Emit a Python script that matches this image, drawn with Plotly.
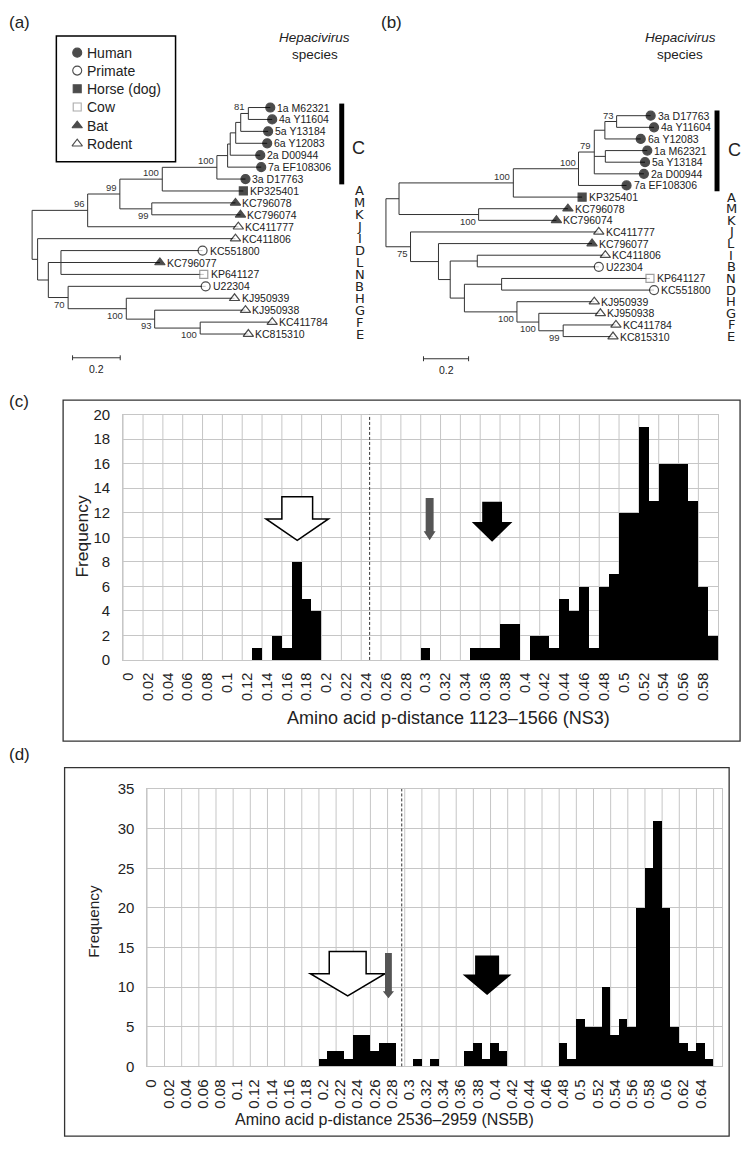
import plotly.graph_objects as go

W, H = 750, 1151
FONT = "Liberation Sans, Arial, Helvetica, sans-serif"

# ======================= DATA =======================
# ---- Tree (a): leaves top->bottom, tip depth (subst./site), host ----
A_LEAVES = ["1a M62321", "4a Y11604", "5a Y13184", "6a Y12083", "2a D00944",
            "7a EF108306", "3a D17763", "KP325401", "KC796078", "KC796074",
            "KC411777", "KC411806", "KC551800", "KC796077", "KP641127",
            "U22304", "KJ950939", "KJ950938", "KC411784", "KC815310"]
A_TIPS = [0.999, 1.007, 0.990, 0.986, 0.957, 0.961, 0.895, 0.886, 0.853, 0.874,
          0.865, 0.853, 0.715, 0.536, 0.720, 0.728, 0.849, 0.895, 1.007, 0.907]
A_HOSTS = ["Human", "Human", "Human", "Human", "Human", "Human", "Human",
           "Horse (dog)", "Bat", "Bat", "Rodent", "Rodent", "Primate", "Bat",
           "Cow", "Primate", "Rodent", "Rodent", "Rodent", "Rodent"]
A_SPECIES = ["A", "M", "K", "J", "I", "D", "L", "N", "B", "H", "G", "F", "E"]
# internal nodes (bottom-up): name, depth, children, bootstrap, label side
A_NODES = [
    ("n81", 0.907, ["1a M62321", "4a Y11604"], "81", "above"),
    ("nc4", 0.875, ["n81", "5a Y13184"], "", ""),
    ("nc3", 0.854, ["nc4", "6a Y12083"], "", ""),
    ("nc2", 0.831, ["nc3", "2a D00944"], "", ""),
    ("nc1", 0.820, ["nc2", "7a EF108306"], "", ""),
    ("n100i", 0.775, ["nc1", "3a D17763"], "100", "above"),
    ("n100o", 0.546, ["n100i", "KP325401"], "100", "above"),
    ("nbat", 0.502, ["KC796078", "KC796074"], "99", "below"),
    ("n99", 0.368, ["n100o", "nbat"], "99", "above"),
    ("n96", 0.233, ["n99", "KC411777"], "96", "above"),
    ("n56", 0.121, ["KC551800", "KC796077", "KP641127"], "", ""),
    ("n100c", 0.705, ["KC411784", "KC815310"], "100", "below"),
    ("n93", 0.514, ["KJ950938", "n100c"], "93", "below"),
    ("n100b", 0.395, ["KJ950939", "n93"], "100", "below"),
    ("n70", 0.151, ["U22304", "n100b"], "70", "below"),
    ("n43", 0.068, ["n56", "n70"], "", ""),
    ("n32", 0.023, ["KC411806", "n43"], "", ""),
    ("root", 0.0, ["n96", "n32"], "", ""),
]

# ---- Tree (b) ----
B_LEAVES = ["3a D17763", "4a Y11604", "6a Y12083", "1a M62321", "5a Y13184",
            "2a D00944", "7a EF108306", "KP325401", "KC796078", "KC796074",
            "KC411777", "KC796077", "KC411806", "U22304", "KP641127",
            "KC551800", "KJ950939", "KJ950938", "KC411784", "KC815310"]
B_TIPS = [1.174, 1.189, 1.130, 1.159, 1.149, 1.144, 1.067, 0.870, 0.807, 0.756,
          0.944, 0.914, 0.973, 0.944, 1.171, 1.189, 0.924, 0.951, 1.020, 1.007]
B_HOSTS = ["Human", "Human", "Human", "Human", "Human", "Human", "Human",
           "Horse (dog)", "Bat", "Bat", "Rodent", "Bat", "Rodent", "Primate",
           "Cow", "Primate", "Rodent", "Rodent", "Rodent", "Rodent"]
B_SPECIES = ["A", "M", "K", "J", "L", "I", "B", "N", "D", "H", "G", "F", "E"]
B_NODES = [
    ("n73", 1.023, ["3a D17763", "4a Y11604"], "73", "above"),
    ("n604", 0.971, ["n73", "6a Y12083"], "", ""),
    ("n15", 0.973, ["1a M62321", "5a Y13184"], "", ""),
    ("n79", 0.924, ["n604", "n15", "2a D00944"], "79", "above"),
    ("n100i", 0.854, ["n79", "7a EF108306"], "100", "above"),
    ("n100o", 0.565, ["n100i", "KP325401"], "100", "above"),
    ("nbat", 0.411, ["KC796078", "KC796074"], "100", "below"),
    ("nU", 0.058, ["n100o", "nbat"], "", ""),
    ("n562", 0.786, ["KC411784", "KC815310"], "99", "below"),
    ("n537", 0.678, ["KJ950938", "n562"], "100", "below"),
    ("n515", 0.581, ["KJ950939", "n537"], "100", "below"),
    ("n500", 0.513, ["KP641127", "KC551800"], "", ""),
    ("n462", 0.348, ["n500", "n515"], "", ""),
    ("n475", 0.405, ["KC411806", "U22304"], "", ""),
    ("n448", 0.285, ["n475", "n462"], "", ""),
    ("n436", 0.233, ["KC796077", "n448"], "", ""),
    ("n75", 0.109, ["KC411777", "n436"], "75", "below"),
    ("root", 0.0, ["nU", "n75"], "", ""),
]

LEGEND_HOSTS = ["Human", "Primate", "Horse (dog)", "Cow", "Bat", "Rodent"]

# ---- Histogram (c): NS3 ----
C_BINS = [0.00, 0.01, 0.02, 0.03, 0.04, 0.05, 0.06, 0.07, 0.08, 0.09,
          0.10, 0.11, 0.12, 0.13, 0.14, 0.15, 0.16, 0.17, 0.18, 0.19,
          0.20, 0.21, 0.22, 0.23, 0.24, 0.25, 0.26, 0.27, 0.28, 0.29,
          0.30, 0.31, 0.32, 0.33, 0.34, 0.35, 0.36, 0.37, 0.38, 0.39,
          0.40, 0.41, 0.42, 0.43, 0.44, 0.45, 0.46, 0.47, 0.48, 0.49,
          0.50, 0.51, 0.52, 0.53, 0.54, 0.55, 0.56, 0.57, 0.58, 0.59]
C_COUNTS = [0, 0, 0, 0, 0, 0, 0, 0, 0, 0,
            0, 0, 0, 1, 0, 2, 1, 8, 5, 4,
            0, 0, 0, 0, 0, 0, 0, 0, 0, 0,
            1, 0, 0, 0, 0, 1, 1, 1, 3, 3,
            0, 2, 2, 1, 5, 4, 6, 1, 6, 7,
            12, 12, 19, 13, 16, 16, 16, 13, 6, 2]
C_TICKS = ["0", "0.02", "0.04", "0.06", "0.08", "0.1", "0.12", "0.14", "0.16",
           "0.18", "0.2", "0.22", "0.24", "0.26", "0.28", "0.3", "0.32",
           "0.34", "0.36", "0.38", "0.4", "0.42", "0.44", "0.46", "0.48",
           "0.5", "0.52", "0.54", "0.56", "0.58"]
C_CUTOFF = 0.2485

# ---- Histogram (d): NS5B ----
D_BINS = [0.00, 0.01, 0.02, 0.03, 0.04, 0.05, 0.06, 0.07, 0.08, 0.09,
          0.10, 0.11, 0.12, 0.13, 0.14, 0.15, 0.16, 0.17, 0.18, 0.19,
          0.20, 0.21, 0.22, 0.23, 0.24, 0.25, 0.26, 0.27, 0.28, 0.29,
          0.30, 0.31, 0.32, 0.33, 0.34, 0.35, 0.36, 0.37, 0.38, 0.39,
          0.40, 0.41, 0.42, 0.43, 0.44, 0.45, 0.46, 0.47, 0.48, 0.49,
          0.50, 0.51, 0.52, 0.53, 0.54, 0.55, 0.56, 0.57, 0.58, 0.59,
          0.60, 0.61, 0.62, 0.63, 0.64, 0.65, 0.66]
D_COUNTS = [0, 0, 0, 0, 0, 0, 0, 0, 0, 0,
            0, 0, 0, 0, 0, 0, 0, 0, 0, 0,
            1, 2, 2, 1, 4, 4, 2, 3, 3, 0,
            0, 1, 0, 1, 0, 0, 0, 2, 3, 1,
            3, 2, 0, 0, 0, 0, 0, 0, 3, 1,
            6, 5, 5, 10, 4, 6, 5, 20, 25, 31,
            20, 5, 3, 2, 3, 1, 0]
D_TICKS = ["0", "0.02", "0.04", "0.06", "0.08", "0.1", "0.12", "0.14", "0.16",
           "0.18", "0.2", "0.22", "0.24", "0.26", "0.28", "0.3", "0.32",
           "0.34", "0.36", "0.38", "0.4", "0.42", "0.44", "0.46", "0.48",
           "0.5", "0.52", "0.54", "0.56", "0.58", "0.6", "0.62", "0.64"]
D_CUTOFF = 0.2965

# arrows: style, centre x, shaft half-width, head half-width, top, head base, tip
C_ARROWS = [("open", 0.1755, 0.0155, 0.0315, 13.3, 11.5, 9.75),
            ("grey", 0.309, 0.004, 0.006, 13.2, 10.5, 9.75),
            ("solid", 0.372, 0.010, 0.0205, 12.9, 11.25, 9.64)]
D_ARROWS = [("open", 0.2335, 0.0215, 0.0435, 14.5, 11.7, 8.9),
            ("grey", 0.281, 0.004, 0.0065, 14.3, 9.5, 8.6),
            ("solid", 0.396, 0.014, 0.0285, 14.0, 11.6, 9.0)]

# ======================= HELPERS =======================
def pxx(x):
    return x / W


def pxy(y):
    return 1 - y / H


HOST_STYLE = {
    "Human": dict(symbol="circle", color="black", line="black", size=9),
    "Primate": dict(symbol="circle", color="white", line="black", size=9),
    "Horse (dog)": dict(symbol="square", color="black", line="black", size=8),
    "Cow": dict(symbol="square", color="white", line="#777777", size=8),
    "Bat": dict(symbol="triangle-up", color="black", line="black", size=9),
    "Rodent": dict(symbol="triangle-up", color="white", line="black", size=9),
}

fig = go.Figure()
annotations = []
shapes = []


def ann(text, x, y, size, xref="paper", yref="paper", xanchor="center",
        yanchor="middle", angle=0, color="#222222", family=FONT, **kw):
    annotations.append(dict(text=text, x=x, y=y, xref=xref, yref=yref,
                            xanchor=xanchor, yanchor=yanchor, showarrow=False,
                            textangle=angle,
                            font=dict(size=size, color=color, family=family),
                            **kw))


def draw_tree(leaves, tips, hosts, nodes, xa, ya):
    pos = {}
    for i, (n, d) in enumerate(zip(leaves, tips)):
        pos[n] = (d, i)
    xs, ys = [], []
    for name, depth, children, bs, side in nodes:
        cy = [pos[c][1] for c in children]
        y0, y1 = min(cy), max(cy)
        mid = (y0 + y1) / 2
        pos[name] = (depth, mid)
        xs += [depth, depth, None]
        ys += [y0, y1, None]
        for c in children:
            cd, cyy = pos[c]
            xs += [depth, cd, None]
            ys += [cyy, cyy, None]
        if bs:
            if side == "above":
                ann(bs, depth, mid, 9.5, xref=xa, yref=ya, xanchor="right",
                    yanchor="bottom", xshift=-1, yshift=-1, color="#333333")
            else:
                ann(bs, depth, mid, 9.5, xref=xa, yref=ya, xanchor="right",
                    yanchor="top", xshift=-1, yshift=1, color="#333333")
    fig.add_trace(go.Scatter(x=xs, y=ys, mode="lines", xaxis=xa, yaxis=ya,
                             line=dict(color="#333333", width=1),
                             hoverinfo="skip", showlegend=False,
                             cliponaxis=False))
    fig.add_trace(go.Scatter(
        x=tips, y=list(range(len(leaves))), mode="markers", xaxis=xa,
        yaxis=ya, hoverinfo="skip", showlegend=False, cliponaxis=False,
        marker=dict(symbol=[HOST_STYLE[h]["symbol"] for h in hosts],
                    color=[HOST_STYLE[h]["color"] for h in hosts],
                    size=[HOST_STYLE[h]["size"] for h in hosts],
                    line=dict(color=[HOST_STYLE[h]["line"] for h in hosts],
                              width=1.2))))
    for i, (n, d) in enumerate(zip(leaves, tips)):
        ann(n, d, i, 10.5, xref=xa, yref=ya, xanchor="left", xshift=5)


# ======================= TREES =======================
A_ROOT_PX, A_SCALE = 27.3, 240.0      # px of root, px per unit
A_Y0, A_DY = 100.0, 12.1              # px of first leaf, px per leaf
B_ROOT_PX, B_SCALE = 383.5, 227.0
B_Y0, B_DY = 108.3, 11.8

draw_tree(A_LEAVES, A_TIPS, A_HOSTS, A_NODES, "x", "y")
draw_tree(B_LEAVES, B_TIPS, B_HOSTS, B_NODES, "x2", "y2")

# species letters
for k, s in enumerate(A_SPECIES):
    ann(s, pxx(357), 7 + k, 13, yref="y", family="DejaVu Sans, sans-serif")
for k, s in enumerate(B_SPECIES):
    ann(s, pxx(731), 7 + k, 13, yref="y2", family="DejaVu Sans, sans-serif")
ann("C", pxx(356), pxy(141), 18)
ann("C", pxx(734), pxy(143), 18)
shapes.append(dict(type="rect", xref="paper", yref="paper", x0=pxx(336.5),
                   x1=pxx(341.5), y0=pxy(96), y1=pxy(178),
                   fillcolor="black", line=dict(width=0)))
shapes.append(dict(type="rect", xref="paper", yref="paper", x0=pxx(714.3),
                   x1=pxx(719.3), y0=pxy(103), y1=pxy(185),
                   fillcolor="black", line=dict(width=0)))

for cx in (312, 680):
    ann("<i>Hepacivirus</i>", pxx(cx), pxy(29), 13.5)
    ann("species", pxx(cx), pxy(46.5), 13.5)

ann("(a)", pxx(2), pxy(14), 17, xanchor="left")
ann("(b)", pxx(377), pxy(14), 17, xanchor="left")
ann("(c)", pxx(2), pxy(398), 17, xanchor="left")
ann("(d)", pxx(2), pxy(757), 17, xanchor="left")

# scale bars (0.2 substitutions)
for xa, ya, root_px, scale, y0, dy, x_px, y_px in (
        ("x", "y", A_ROOT_PX, A_SCALE, A_Y0, A_DY, 68, 354),
        ("x2", "y2", B_ROOT_PX, B_SCALE, B_Y0, B_DY, 421.3, 355)):
    xl = (x_px - root_px) / scale
    yl = (y_px - y0) / dy
    t = 2.5 / dy
    fig.add_trace(go.Scatter(
        x=[xl, xl + 0.2, None, xl, xl, None, xl + 0.2, xl + 0.2],
        y=[yl, yl, None, yl - t, yl + t, None, yl - t, yl + t],
        mode="lines", xaxis=xa, yaxis=ya, line=dict(color="#333333", width=1),
        hoverinfo="skip", showlegend=False, cliponaxis=False))
    ann("0.2", xl + 0.1, yl + 11 / dy, 10.5, xref=xa, yref=ya)

# host legend (tree a)
shapes.append(dict(type="rect", xref="paper", yref="paper", x0=pxx(51.7),
                   x1=pxx(171.7), y0=pxy(27.3), y1=pxy(155),
                   line=dict(color="black", width=1.5)))
leg_y_px = [44.3, 62.5, 81, 99.5, 118.3, 136.7]
leg_x = (72.7 - A_ROOT_PX) / A_SCALE
leg_style = dict(HOST_STYLE)
leg_style["Rodent"] = dict(symbol="triangle-up-open", color="black",
                           line="black", size=9)
leg_style["Cow"] = dict(symbol="square-open", color="#888888",
                        line="#888888", size=8)
fig.add_trace(go.Scatter(
    x=[leg_x] * len(LEGEND_HOSTS),
    y=[(v - A_Y0) / A_DY for v in leg_y_px], mode="markers", xaxis="x",
    yaxis="y", hoverinfo="skip", showlegend=False, cliponaxis=False,
    marker=dict(symbol=[leg_style[h]["symbol"] for h in LEGEND_HOSTS],
                color=[leg_style[h]["color"] for h in LEGEND_HOSTS],
                size=[leg_style[h]["size"] for h in LEGEND_HOSTS],
                line=dict(color=[leg_style[h]["line"] for h in LEGEND_HOSTS],
                          width=1.1))))
for h, yv in zip(LEGEND_HOSTS, leg_y_px):
    ann(h, pxx(81), pxy(yv), 14, xanchor="left")

# ======================= HISTOGRAMS =======================
GRID = "#c6c6c6"


def draw_hist(bins, counts, xa, ya, cutoff, arrows, ymax):
    centres = [b + 0.005 for b in bins]
    fig.add_trace(go.Bar(x=centres, y=counts, width=0.01, xaxis=xa, yaxis=ya,
                         marker=dict(color="black", line=dict(width=0)),
                         hoverinfo="skip", showlegend=False))
    for b in bins[::2]:
        shapes.append(dict(type="line", xref=xa, yref=ya, x0=b, x1=b, y0=0,
                           y1=ymax, layer="below",
                           line=dict(color=GRID, width=1)))
    shapes.append(dict(type="line", xref=xa, yref=ya, x0=cutoff, x1=cutoff,
                       y0=0, y1=ymax, line=dict(color="#333333", width=1,
                                                dash="3px,2px")))
    for kind, cx, sh, hd, top, base, tip in arrows:
        path = (f"M {cx - sh},{top} L {cx + sh},{top} L {cx + sh},{base} "
                f"L {cx + hd},{base} L {cx},{tip} L {cx - hd},{base} "
                f"L {cx - sh},{base} Z")
        if kind == "open":
            st = dict(fillcolor="white", line=dict(color="black", width=1.5))
        elif kind == "grey":
            st = dict(fillcolor="#555555", line=dict(width=0))
        else:
            st = dict(fillcolor="black", line=dict(width=0))
        shapes.append(dict(type="path", xref=xa, yref=ya, path=path, **st))


draw_hist(C_BINS, C_COUNTS, "x3", "y3", C_CUTOFF, C_ARROWS, 20)
draw_hist(D_BINS, D_COUNTS, "x4", "y4", D_CUTOFF, D_ARROWS, 35)


def hist_axes(bins, ticks, xdom, ydom, xmax, ymax, dtick, xfs, yfs, stand):
    xa = dict(domain=xdom, range=[0, xmax], showgrid=False, zeroline=False,
              showline=True, mirror=True, linecolor=GRID, linewidth=1,
              tickmode="array",
              tickvals=[b + 0.005 for b in bins[::2]][:len(ticks)],
              ticktext=ticks, tickangle=-90,
              ticks="", ticklabelstandoff=stand,
              tickfont=dict(size=xfs, color="#222222", family=FONT),
              fixedrange=True)
    ya = dict(domain=ydom, range=[0, ymax], dtick=dtick, tick0=0,
              showgrid=True, gridcolor=GRID, gridwidth=1, zeroline=False,
              showline=True, mirror=True, linecolor=GRID, linewidth=1,
              ticks="", ticklabelstandoff=9,
              tickfont=dict(size=yfs, color="#222222", family=FONT),
              fixedrange=True)
    return xa, ya


x3, y3 = hist_axes(C_BINS, C_TICKS, [pxx(119), pxx(718)],
                   [pxy(660.7), pxy(411.7)], 0.60, 20, 2, 14.5, 15, 6)
x4, y4 = hist_axes(D_BINS, D_TICKS, [pxx(143.3), pxx(722)],
                   [pxy(1073.3), pxy(791.7)], 0.67, 35, 5, 15, 15, 6)
x3["anchor"] = "y3"
y3["anchor"] = "x3"
x4["anchor"] = "y4"
y4["anchor"] = "x4"

ann("Frequency", pxx(78), pxy(535), 17.4, angle=-90)
ann("Amino acid p-distance 1123\u20131566 (NS3)", pxx(446), pxy(720), 18)
ann("Frequency", pxx(89), pxy(926), 15.3, angle=-90)
ann("Amino acid p-distance 2536\u20132959 (NS5B)", pxx(382), pxy(1127), 16)

# panel frames
shapes.append(dict(type="rect", xref="paper", yref="paper", x0=pxx(58.5),
                   x1=pxx(740), y0=pxy(397), y1=pxy(743),
                   line=dict(color="#333333", width=1.3)))
shapes.append(dict(type="rect", xref="paper", yref="paper", x0=pxx(60),
                   x1=pxx(729), y0=pxy(770), y1=pxy(1144),
                   line=dict(color="#333333", width=1.3)))

tree_hidden = dict(visible=False, fixedrange=True)
fig.update_layout(
    width=W, height=H, margin=dict(l=0, r=0, t=0, b=0),
    paper_bgcolor="white", plot_bgcolor="white", showlegend=False,
    font=dict(family=FONT, color="#222222"),
    xaxis=dict(domain=[0, 0.5], range=[-A_ROOT_PX / A_SCALE,
                                       (375 - A_ROOT_PX) / A_SCALE],
               anchor="y", **tree_hidden),
    yaxis=dict(domain=[pxy(380), 1], range=[(380 - A_Y0) / A_DY,
                                           -A_Y0 / A_DY],
               anchor="x", **tree_hidden),
    xaxis2=dict(domain=[0.5, 1], range=[(375 - B_ROOT_PX) / B_SCALE,
                                        (750 - B_ROOT_PX) / B_SCALE],
                anchor="y2", **tree_hidden),
    yaxis2=dict(domain=[pxy(380), 1], range=[(380 - B_Y0) / B_DY,
                                            -B_Y0 / B_DY],
                anchor="x2", **tree_hidden),
    xaxis3=x3, yaxis3=y3, xaxis4=x4, yaxis4=y4,
    annotations=annotations, shapes=shapes, bargap=0,
)

fig.write_html("out.html", config={"displayModeBar": False},
               post_script="document.body.style.margin='0';"
                           "document.body.style.overflow='hidden';")
